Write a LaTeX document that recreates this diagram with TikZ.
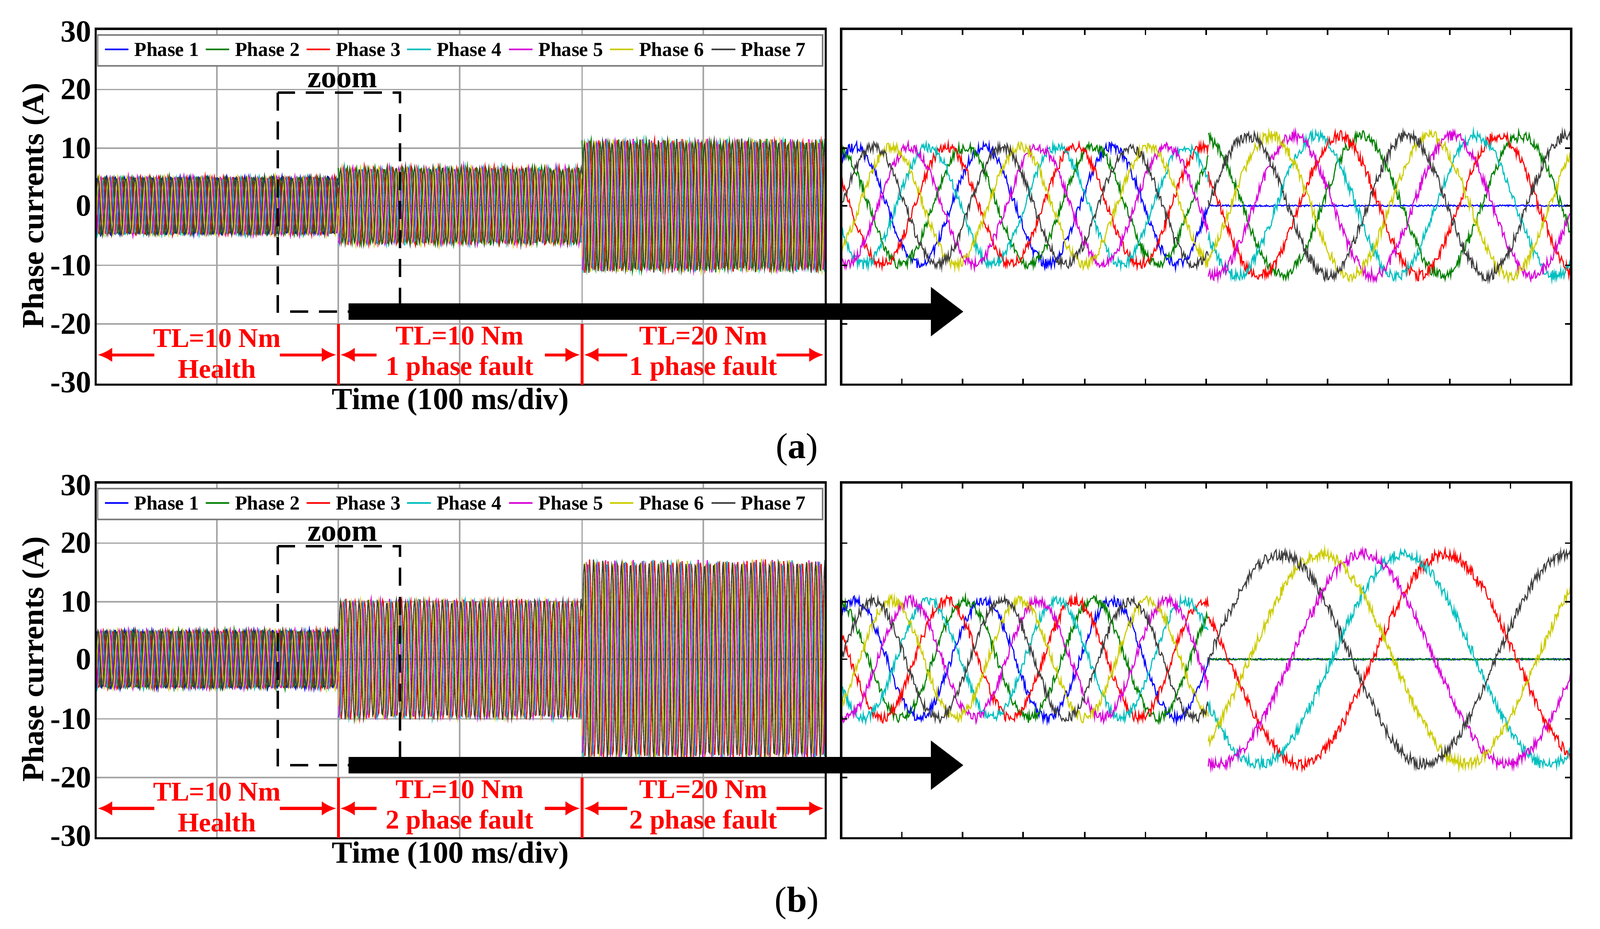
\documentclass[tikz,border=0pt]{standalone}
\usepackage{fontspec}
\setmainfont{Liberation Serif}
\usetikzlibrary{arrows.meta}
\definecolor{c1}{rgb}{0,0,1}
\definecolor{c2}{rgb}{0,0.5,0}
\definecolor{c3}{rgb}{1,0,0}
\definecolor{c4}{rgb}{0,0.75,0.75}
\definecolor{c5}{rgb}{0.85,0,0.85}
\definecolor{c6}{rgb}{0.8,0.8,0}
\definecolor{c7}{rgb}{0.25,0.25,0.25}
\newcommand\phasewaves[8]{%
  \foreach \k/\c in {1/c1,2/c2,3/c3,4/c4,5/c5,6/c6,7/c7}{%
    \pgfmathsetmacro\amp{(\k<=#8)?0:#4}%
    \pgfmathsetmacro\nz{(\k<=#8)?0.8:#7}%
    \draw[\c,line width=0.3pt] plot[domain=#1:#2,samples=#6]
      (\x,{#3-\amp*sin((\x-#1)/#5*360+\k*51.43)+\nz*rand});
  }}
\tikzset{
  frame/.style={draw=black,line width=0.6pt},
  grid/.style={draw=gray!70,line width=0.4pt},
  tick/.style={font=\bfseries\fontsize{8.5}{8.5}\selectfont,anchor=east,inner sep=1pt},
  leg/.style={font=\bfseries\fontsize{5.5}{5.5}\selectfont,anchor=west,inner sep=0pt},
  red lab/.style={font=\bfseries\fontsize{7.5}{8.5}\selectfont,text=red,align=center},
  ax lab/.style={font=\bfseries\fontsize{8.5}{8.5}\selectfont},
  red arr/.style={red,line width=0.8pt,-{Latex[length=4pt,width=4pt]}},
  big arr/.style={line width=4.5pt,-{Triangle[length=9pt,width=13pt]}},
  zoombox/.style={dashed,line width=0.7pt,dash pattern=on 5pt off 3pt}
}
\begin{document}
\begin{tikzpicture}[x=0.01cm,y=-0.01cm]
\useasboundingbox (0,0) rectangle (1556,903);
\foreach \off/\lbl/\nf/\ampb/\ampc/\ampR/\perR in {0/a/1/37/63/68/155,441/b/2/57/95/102/280}{
\begin{scope}[yshift={-\off*0.01cm}]
  \foreach \yy in {87,144,200,258,315}{\draw[grid] (93,\yy) -- (803,\yy);}
  \foreach \xx in {211,329,447,566,684}{\draw[grid] (\xx,28) -- (\xx,374);}
  \begin{scope}
    \clip (93,28) rectangle (803,374);
    \phasewaves{93}{329}{200}{28}{9}{320}{1.5}{0}
    \phasewaves{329}{566}{200}{\ampb}{9}{320}{2}{\nf}
    \phasewaves{566}{803}{200}{\ampc}{9}{320}{2.5}{\nf}
  \end{scope}
  \draw[frame] (93,28) rectangle (803,374);
  \foreach \yy/\t in {31/30,87/20,144/10,200/0,258/-10,315/-20,372/-30}{
    \node[tick] at (93,\yy) {\t};}
  \draw[fill=white,draw=gray,line width=0.4pt] (95,34) rectangle (800,64);
  \foreach \k/\c/\cx in {1/c1/160,2/c2/258,3/c3/356,4/c4/454,5/c5/553,6/c6/651,7/c7/750}{
    \draw[\c,line width=0.5pt] (\cx-58,48) -- (\cx-35,48);
    \node[leg] at (\cx-30,48) {Phase \k};}
  \draw[zoombox] (270,90) rectangle (389,303);
  \node[ax lab] (zl\lbl) at (333,78) {zoom};
  \coordinate (as\lbl) at (339,303);
  \coordinate (ae\lbl) at (937,303);
  \draw[big arr] (as\lbl) -- (ae\lbl);
  \draw[red,line width=0.8pt] (329,315) -- (329,374) (566,315) -- (566,374);
  \node[red lab] (l1\lbl) at (211,344) {TL=10 Nm\\Health};
  \node[red lab] (l2\lbl) at (447,344) {TL=10 Nm\\\nf\ phase fault};
  \node[red lab] (l3\lbl) at (684,344) {TL=20 Nm\\\nf\ phase fault};
  \draw[red arr] (150,345) -- (95,345);
  \draw[red arr] (272,345) -- (327,345);
  \draw[red arr] (366,345) -- (331,345);
  \draw[red arr] (530,345) -- (564,345);
  \draw[red arr] (610,345) -- (568,345);
  \draw[red arr] (755,345) -- (801,345);
  \node[ax lab] (tx\lbl) at (438,391) {Time (100 ms/div)};
  \node[ax lab,rotate=90] (yl\lbl) at (35,200) {Phase currents (A)};
  \node[font=\fontsize{10}{10}\selectfont] (cap\lbl) at (775,437) {(\textbf{\lbl})};
  \begin{scope}
    \clip (818,28) rectangle (1528,374);
    \phasewaves{818}{1175}{200}{57}{125}{450}{5}{0}
    \phasewaves{1175}{1528}{200}{\ampR}{\perR}{450}{5.5}{\nf}
  \end{scope}
  \draw[frame] (818,28) rectangle (1528,374);
  \foreach \xx in {877,936,995,1055,1114,1173,1232,1291,1350,1410,1469}{
    \draw[line width=0.4pt] (\xx,374) -- (\xx,368) (\xx,28) -- (\xx,34);}
  \foreach \yy in {87,144,200,258,315}{
    \draw[line width=0.4pt] (818,\yy) -- (824,\yy) (1528,\yy) -- (1522,\yy);}
\end{scope}
}
\end{tikzpicture}
\end{document}
